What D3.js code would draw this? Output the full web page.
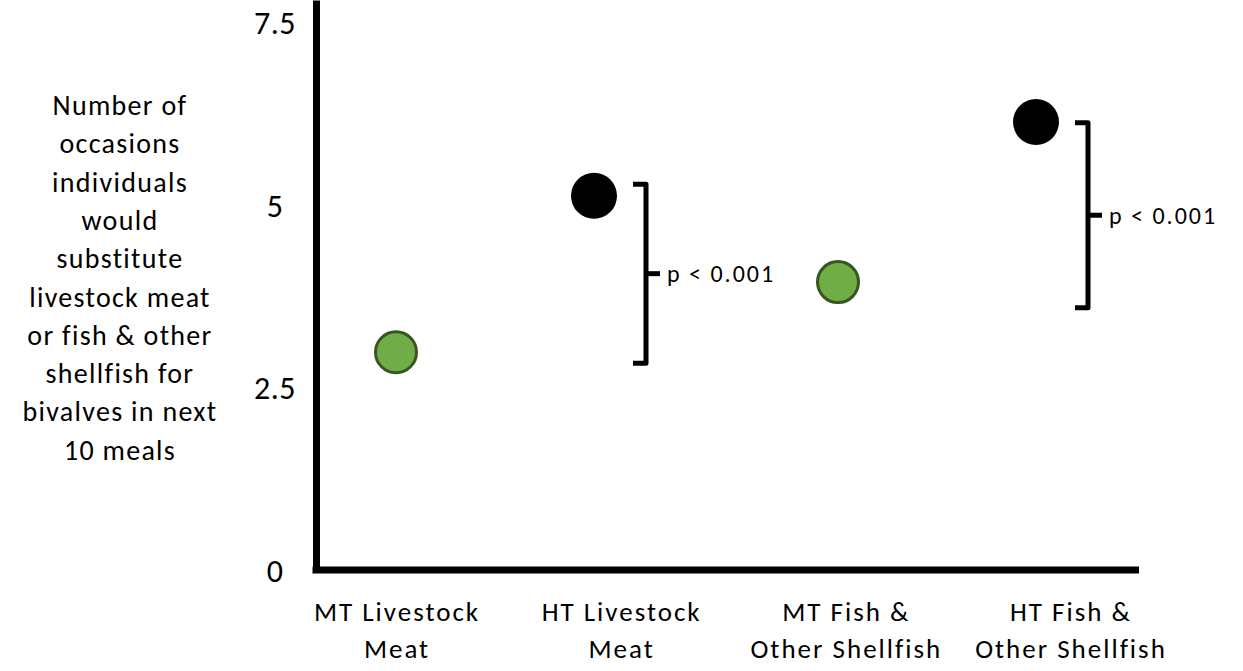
<!DOCTYPE html>
<html>
<head>
<meta charset="utf-8">
<script src="https://cdn.jsdelivr.net/npm/d3@7"></script>
<style>
  body { margin: 0; background: #fff; }
  text { font-family: Calibri, Carlito, Lato, sans-serif; fill: #000; }
</style>
</head>
<body>
<svg id="chart" width="1243" height="671"></svg>
<script>
// Food groups on the x axis, each split by treatment level
const foodGroups = ["Livestock Meat", "Fish & Other Shellfish"];
const treatments = ["MT", "HT"];
const categories = ["MT Livestock Meat", "HT Livestock Meat", "MT Fish & Other Shellfish", "HT Fish & Other Shellfish"];
const categoryLines = [
  ["MT Livestock", "Meat"],
  ["HT Livestock", "Meat"],
  ["MT Fish &", "Other Shellfish"],
  ["HT Fish &", "Other Shellfish"]
];
// Mean number of substitutions in the next 10 meals
const livestockValues = [2.98, 5.12];   // MT, HT
const fishValues = [3.94, 6.13];        // MT, HT

const yTicks = [0, 2.5, 5, 7.5];
const yTickLabels = ["0", "2.5", "5", "7.5"];

// Significance brackets (one per food group): value range spanned
const bracketLow = [2.83, 3.59];
const bracketHigh = [5.28, 6.12];
const pLabels = ["p < 0.001", "p < 0.001"];

const yTitleLines = [
  "Number of", "occasions", "individuals", "would", "substitute",
  "livestock meat", "or fish & other", "shellfish for", "bivalves in next", "10 meals"
];

const svg = d3.select("#chart");
const axisLeftX = 316, axisRightX = 1139;

const y = d3.scaleLinear().domain([0, 7.8]).range([570, 0]);
const xGroup = d3.scalePoint().domain(foodGroups).range([495, 937]);
const xTreat = d3.scalePoint().domain(treatments).range([-99, 99]);
const xLabel = d3.scalePoint().domain(categories).range([396, 1070]);
const colour = d3.scaleOrdinal().domain(treatments).range(["#70AD47", "#000000"]);
const stroke = d3.scaleOrdinal().domain(treatments).range(["#375623", "#000000"]);

const points = [];
foodGroups.forEach((g, gi) => {
  const vals = gi === 0 ? livestockValues : fishValues;
  treatments.forEach((t, ti) => points.push({
    group: g, treat: t, value: vals[ti],
    category: categories[gi * 2 + ti], lines: categoryLines[gi * 2 + ti]
  }));
});
const px = d => xGroup(d.group) + xTreat(d.treat);

// Y axis
const yAxis = d3.axisLeft(y).tickValues(yTicks).tickSize(0).tickPadding(0)
  .tickFormat((d, i) => yTickLabels[i]);
const yg = svg.append("g").attr("transform", `translate(${axisLeftX},0)`).call(yAxis);
yg.select(".domain").attr("stroke", "#000").attr("stroke-width", 7);
yg.selectAll(".tick text")
  .attr("x", -41).attr("dy", "0.36em")
  .attr("text-anchor", "middle")
  .style("font-size", "32px")
  .style("letter-spacing", "0.5px");

// X axis line
svg.append("line")
  .attr("x1", axisLeftX - 3.5).attr("x2", axisRightX)
  .attr("y1", y(0)).attr("y2", y(0))
  .attr("stroke", "#000").attr("stroke-width", 7);

// Category labels (two lines each)
const cat = svg.append("g").selectAll("text").data(points).join("text")
  .attr("text-anchor", "middle")
  .style("font-size", "27px")
  .style("letter-spacing", "2px");
cat.each(function (d) {
  const t = d3.select(this);
  d.lines.forEach((line, i) => {
    t.append("tspan").attr("x", xLabel(d.category) + 1).attr("y", 621 + i * 37).text(line);
  });
});

// Points
svg.append("g").selectAll("circle").data(points).join("circle")
  .attr("cx", px).attr("cy", d => y(d.value))
  .attr("r", d => d.treat === "MT" ? 20.5 : 23)
  .attr("fill", d => colour(d.treat))
  .attr("stroke", d => stroke(d.treat))
  .attr("stroke-width", d => d.treat === "MT" ? 3 : 0);

// Significance brackets
foodGroups.forEach((g, gi) => {
  const bx = xGroup(g) + xTreat("HT") + 52;
  const top = y(bracketHigh[gi]), bot = y(bracketLow[gi]);
  const mid = (top + bot) / 2;
  svg.append("path")
    .attr("d", `M${bx - 13},${top} L${bx},${top} L${bx},${bot} L${bx - 13},${bot}`)
    .attr("fill", "none").attr("stroke", "#000").attr("stroke-width", 5)
    .attr("stroke-linejoin", "round");
  svg.append("line")
    .attr("x1", bx).attr("x2", bx + 14).attr("y1", mid).attr("y2", mid)
    .attr("stroke", "#000").attr("stroke-width", 5);
  svg.append("text")
    .attr("x", bx + 21).attr("y", mid).attr("dy", "0.36em")
    .style("font-size", "24px")
    .style("letter-spacing", "2px")
    .text(pLabels[gi]);
});

// Y axis title
svg.append("text")
  .attr("text-anchor", "middle")
  .style("font-size", "28px")
  .style("letter-spacing", "1.3px")
  .selectAll("tspan").data(yTitleLines).join("tspan")
  .attr("x", 120).attr("y", (d, i) => 115 + i * 38.3)
  .text(d => d);
</script>
</body>
</html>
